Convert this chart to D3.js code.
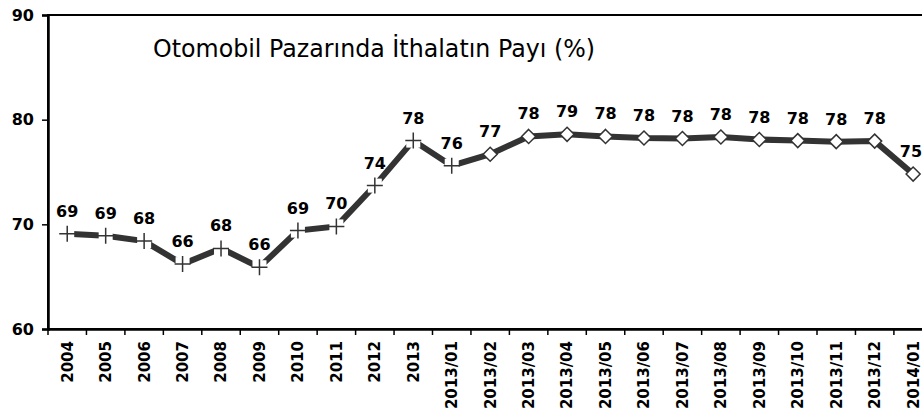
<!DOCTYPE html>
<html>
<head>
<meta charset="utf-8">
<script src="https://cdn.jsdelivr.net/npm/d3@7"></script>
<style>
  body { margin: 0; background: #fff; }
  svg { display: block; }
  text { font-family: "DejaVu Sans", Verdana, sans-serif; }
</style>
</head>
<body>
<div id="chart"></div>
<script>
// Categories on the x axis
const categories = [
  "2004", "2005", "2006", "2007", "2008", "2009", "2010", "2011", "2012", "2013",
  "2013/01", "2013/02", "2013/03", "2013/04", "2013/05", "2013/06", "2013/07",
  "2013/08", "2013/09", "2013/10", "2013/11", "2013/12", "2014/01"
]
// Import share of the car market (%)
const shares = [
  69.1, 68.9, 68.4, 66.2, 67.7, 65.9, 69.4, 69.8, 73.7, 78.0,
  75.6, 76.7, 78.4, 78.6, 78.4, 78.25, 78.2, 78.35, 78.1, 78.0, 77.9, 77.95, 74.8
]
// Yearly points use a "+" marker, monthly ones a diamond
const markerKinds = categories.map(c => c.includes("/") && c !== "2013/01" ? "diamond" : "plus")
const yTicks = [60, 70, 80, 90]
const title = "Otomobil Pazarında İthalatın Payı (%)"

const width = 922
const height = 411
const margin = { top: 15, left: 48, bottom: 82 }
const step = 38.45

const svg = d3.select("#chart").append("svg")
  .attr("width", width)
  .attr("height", height)

const x = d3.scaleBand()
  .domain(categories)
  .range([margin.left, margin.left + step * categories.length])
  .padding(0)

const y = d3.scaleLinear()
  .domain([60, 90])
  .range([height - margin.bottom, margin.top])

const cx = d => x(d) + x.bandwidth() / 2
const plotRight = x.range()[1]

// plot frame (top and right edges; the right one runs past the window)
svg.append("rect")
  .attr("x", margin.left)
  .attr("y", y(90))
  .attr("width", plotRight - margin.left)
  .attr("height", y(60) - y(90))
  .attr("fill", "none")
  .attr("stroke", "#000")
  .attr("stroke-width", 2)

// y axis
const yAxis = svg.append("g")
  .attr("transform", `translate(${margin.left},0)`)
  .call(d3.axisLeft(y).tickValues(yTicks).tickSize(6).tickPadding(8).tickFormat(d3.format("d")))
yAxis.select(".domain").attr("stroke-width", 2.5)
yAxis.selectAll(".tick line").attr("stroke-width", 1.5)
yAxis.selectAll("text")
  .style("font-family", "'DejaVu Sans', Verdana, sans-serif")
  .style("font-size", "16px")
  .style("font-weight", "bold")
  .attr("fill", "#000")

// x axis: labels centred on categories, ticks on category boundaries
const xAxis = svg.append("g")
  .attr("transform", `translate(0,${y(60)})`)
  .call(d3.axisBottom(x).tickSize(0).tickPadding(0))
xAxis.select(".domain").attr("stroke-width", 2.5)
xAxis.selectAll(".tick text")
  .attr("transform", "rotate(-90)")
  .attr("text-anchor", "end")
  .attr("x", -12)
  .attr("y", 0)
  .attr("dy", "0.36em")
  .style("font-family", "'DejaVu Sans', Verdana, sans-serif")
  .style("font-size", "15px")
  .style("font-weight", "bold")
  .attr("fill", "#000")

svg.append("g")
  .selectAll("line")
  .data(categories)
  .join("line")
  .attr("x1", d => x(d))
  .attr("x2", d => x(d))
  .attr("y1", y(60))
  .attr("y2", y(60) + 6)
  .attr("stroke", "#000")
  .attr("stroke-width", 1.5)

// title
svg.append("text")
  .attr("x", 153)
  .attr("y", 57)
  .style("font-size", "25px")
  .attr("textLength", 442)
  .attr("lengthAdjust", "spacingAndGlyphs")
  .attr("fill", "#000")
  .text(title)

const points = categories.map((c, i) => ({ cat: c, value: shares[i], kind: markerKinds[i] }))

// the line
svg.append("path")
  .datum(points)
  .attr("fill", "none")
  .attr("stroke", "#333")
  .attr("stroke-width", 6)
  .attr("d", d3.line().x(d => cx(d.cat)).y(d => y(d.value)))

// markers
const markers = svg.append("g")
  .selectAll("g")
  .data(points)
  .join("g")
  .attr("transform", d => `translate(${cx(d.cat)},${y(d.value)})`)

markers.filter(d => d.kind === "plus")
  .append("rect")
  .attr("x", -7).attr("y", -7)
  .attr("width", 14).attr("height", 14)
  .attr("fill", "#fff")

markers.filter(d => d.kind === "plus")
  .append("path")
  .attr("d", "M-8,0H8M0,-8V8")
  .attr("stroke", "#333")
  .attr("stroke-width", 1.5)

markers.filter(d => d.kind === "diamond")
  .append("path")
  .attr("d", "M0,-7L7,0L0,7L-7,0Z")
  .attr("fill", "#fff")
  .attr("stroke", "#333")
  .attr("stroke-width", 1.5)

// value labels, kept inside the window at the right edge
svg.append("g")
  .selectAll("text")
  .data(points)
  .join("text")
  .attr("x", d => Math.min(cx(d.cat), width - 11))
  .attr("y", d => y(d.value) - 17)
  .attr("text-anchor", "middle")
  .style("font-size", "16px")
  .style("font-weight", "bold")
  .attr("fill", "#000")
  .text(d => d3.format(".0f")(d.value))
</script>
</body>
</html>
